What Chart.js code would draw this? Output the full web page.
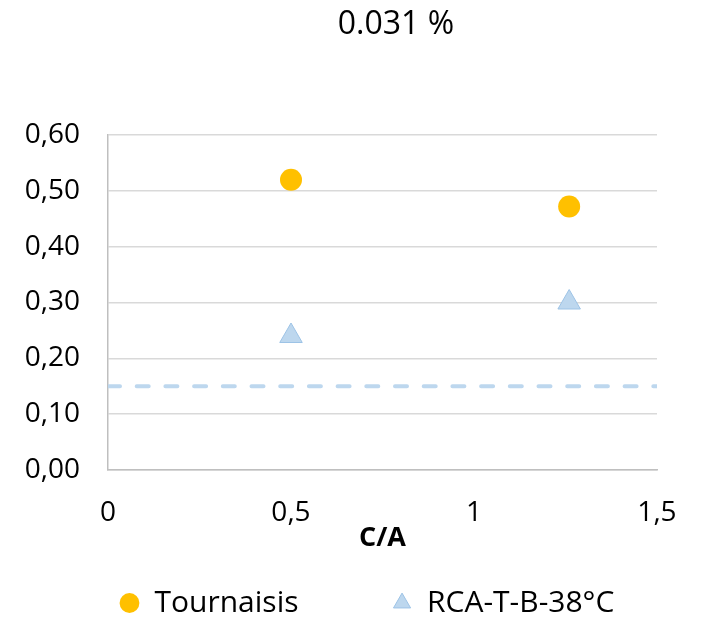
<!DOCTYPE html>
<html>
<head>
<meta charset="utf-8">
<script src="https://cdn.jsdelivr.net/npm/chart.js@4"></script>
<style>
  body { margin: 0; background: #fff; }
</style>
</head>
<body>
<canvas id="chart" width="710" height="622"></canvas>
<script>
const chartTitle = '0.031 %'
const xTitle = 'C/A'
const xValues = [0.5, 1.26]
const tournaisis = [0.52, 0.472]
const rca = [0.24, 0.30]
const limitX = [0, 1.5]
const limitY = [0.15, 0.15]

const toPoints = (xs, ys) => xs.map((x, i) => ({x: x, y: ys[i]}))
const comma = (v, d) => v.toFixed(d).replace('.', ',')

Chart.defaults.font.family = '"Open Sans", sans-serif'
Chart.defaults.color = '#000'

// legend: only the two marker series, spread out like the excel legend
const legendGaps = [12, 4]
const legendLabels = chart =>
  Chart.defaults.plugins.legend.labels.generateLabels(chart)
    .filter(l => l.datasetIndex < 2)
    .map(l => ({...l, text: l.text + ' '.repeat(legendGaps[l.datasetIndex])}))

new Chart(document.querySelector('#chart').getContext('2d'), {
  type: 'scatter',
  data: {
    datasets: [
      {
        label: 'Tournaisis',
        data: toPoints(xValues, tournaisis),
        pointStyle: 'circle',
        pointRadius: 11,
        pointHoverRadius: 11,
        backgroundColor: '#FFC000',
        borderColor: '#FFC000',
        borderWidth: 0
      },
      {
        label: 'RCA-T-B-38°C',
        data: toPoints(xValues, rca),
        pointStyle: 'triangle',
        pointRadius: 13,
        pointHoverRadius: 13,
        backgroundColor: '#BDD7EE',
        borderColor: '#9DC3E6',
        borderWidth: 1
      },
      {
        label: 'limit',
        data: toPoints(limitX, limitY),
        showLine: true,
        pointRadius: 0,
        borderColor: '#BDD7EE',
        borderWidth: 4,
        borderDash: [12, 16.7],
        borderCapStyle: 'round'
      }
    ]
  },
  options: {
    responsive: false,
    animation: false,
    // title is centred a bit right of the canvas middle, hence the uneven padding
    layout: { padding: { left: 22, right: -60, top: 0, bottom: -6 } },
    plugins: {
      tooltip: { enabled: false },
      title: {
        display: true,
        text: chartTitle,
        font: { size: 32, weight: 'normal' },
        padding: { top: 6, bottom: 90.6 }
      },
      legend: {
        position: 'bottom',
        fullSize: false,
        labels: {
          usePointStyle: true,
          boxWidth: 20,
          boxHeight: 14,
          padding: 0,
          font: { size: 30 },
          generateLabels: legendLabels
        }
      }
    },
    scales: {
      x: {
        type: 'linear',
        min: 0,
        max: 1.5,
        afterFit: s => { s.height = 118; s.paddingRight = 53 },
        ticks: {
          stepSize: 0.5,
          padding: 26,
          font: { size: 28 },
          callback: v => v % 1 === 0 ? String(v) : comma(v, 1)
        },
        grid: { display: false, drawTicks: false },
        border: { color: '#BFBFBF', width: 1.5 },
        title: {
          display: true,
          text: xTitle,
          font: { size: 27, weight: 'bold' },
          padding: { top: 0, bottom: 33.8 }
        }
      },
      y: {
        min: 0,
        max: 0.6,
        afterFit: s => { s.width = 86 },
        ticks: {
          stepSize: 0.1,
          autoSkip: false,
          padding: 28,
          font: { size: 28 },
          callback: v => comma(v, 2)
        },
        grid: { color: '#D9D9D9', lineWidth: 1.5, drawTicks: false },
        border: { color: '#BFBFBF', width: 1.5 }
      }
    }
  }
})
</script>
</body>
</html>
